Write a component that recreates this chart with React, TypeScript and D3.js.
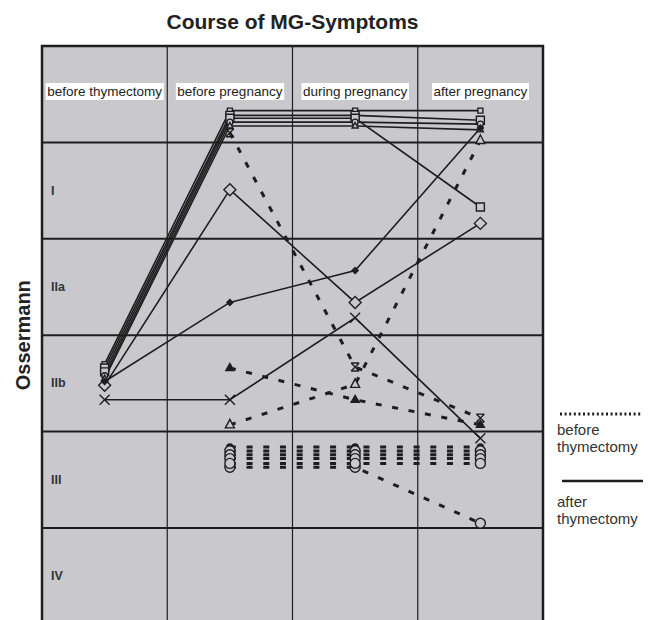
import React, { useEffect, useRef } from 'react';
import * as d3 from 'd3';

// stages along the x axis and Ossermann grades down the y axis
const stages = ['before thymectomy', 'before pregnancy', 'during pregnancy', 'after pregnancy'];
const grades = ['I', 'IIa', 'IIb', 'III', 'IV'];

// values are in grade units (0 = top of the unlabeled remission band, 1 = top of I ...)
// small offsets keep overlapping patients visible, like in the original
const afterThymA = [3.3, 0.67, 0.67, 0.67];
const afterThymB = [3.34, 0.72, 0.72, 0.77];
const afterThymC = [3.38, 0.75, 0.75, 1.67];
const afterThymD = [3.42, 0.79, 0.79, 0.81];
const afterThymE = [3.45, 0.83, 0.83, 0.87];
const afterThymF = [3.52, 1.49, 2.66, 1.84];
const afterThymG = [3.48, 2.66, 2.33, 0.85];
const afterThymH = [3.67, 3.67, 2.82, 4.07];

const beforeThymA = [null, 0.9, 3.33, 3.86];
const beforeThymB = [null, 3.93, 3.51, 0.98];
const beforeThymC = [null, 3.34, 3.67, 3.93];
const beforeThymD = [null, 4.37, 4.37, 4.95];
const beforeThymE = [null, 4.16, 4.16, 4.16];
const beforeThymF = [null, 4.2, 4.2, 4.2];
const beforeThymG = [null, 4.24, 4.24, 4.24];
const beforeThymH = [null, 4.28, 4.28, 4.28];
const beforeThymI = [null, 4.33, 4.33, 4.33];

const solidSeries = [
  { values: afterThymA, marker: 'sqS' },
  { values: afterThymB, marker: 'sq' },
  { values: afterThymC, marker: 'sq' },
  { values: afterThymD, marker: 'circS' },
  { values: afterThymE, marker: 'triS' },
  { values: afterThymF, marker: 'dia' },
  { values: afterThymG, marker: 'diaS' },
  { values: afterThymH, marker: 'x' },
];

const dashedSeries = [
  { values: beforeThymA, marker: 'star' },
  { values: beforeThymB, marker: 'tri' },
  { values: beforeThymC, marker: 'triF' },
  { values: beforeThymD, marker: 'circ' },
  { values: beforeThymE, marker: 'dot' },
  { values: beforeThymF, marker: 'circ' },
  { values: beforeThymG, marker: 'circ' },
  { values: beforeThymH, marker: 'circ' },
  { values: beforeThymI, marker: 'circ' },
];

const BG = '#c9c9cd';
const INK = '#1e1e1e';
const FONT = '"Liberation Sans", Arial, Helvetica, sans-serif';

function markerPath(type: string) {
  switch (type) {
    case 'sqS': return 'M-2.5,-2.5h5v5h-5Z';
    case 'sq': return 'M-4,-4h8v8h-8Z';
    case 'dia': return 'M0,-6L6,0L0,6L-6,0Z';
    case 'diaS': return 'M0,-3L3,0L0,3L-3,0Z';
    case 'x': return 'M-5,-5L5,5M-5,5L5,-5';
    case 'star': return 'M-4,-4L4,4M-4,4L4,-4M-4,-4H4M-4,4H4';
    case 'tri': return 'M0,-5.5L4.5,3L-4.5,3Z';
    case 'triS': return 'M0,-3.5L3,2L-3,2Z';
    case 'triF': return 'M0,-4.5L4,2.5L-4,2.5Z';
    default: return '';
  }
}

export default function App() {
  const svgRef = useRef<SVGSVGElement>(null);
  const width = 655;
  const height = 620;

  useEffect(() => {
    const svg = d3.select(svgRef.current);
    svg.selectAll('*').remove();

    const x = d3.scaleBand().domain(stages).range([42, 543]);
    const cx = (i: number) => (x(stages[i]) as number) + x.bandwidth() / 2;
    const y = d3.scaleLinear().domain([0, 6]).range([46, 624.4]);

    // title + axis label
    svg.append('text')
      .attr('x', 292.5).attr('y', 29)
      .attr('text-anchor', 'middle')
      .style('font-family', FONT).style('font-weight', 'bold').style('font-size', '21px')
      .attr('fill', '#222')
      .text('Course of MG-Symptoms');

    svg.append('text')
      .attr('transform', `translate(30,${y(3)}) rotate(-90)`)
      .attr('text-anchor', 'middle')
      .style('font-family', FONT).style('font-weight', 'bold').style('font-size', '20px')
      .attr('fill', '#222')
      .text('Ossermann');

    // plot area
    svg.append('rect')
      .attr('x', 42).attr('y', y(0))
      .attr('width', 501).attr('height', y(6) - y(0))
      .attr('fill', BG).attr('stroke', INK).attr('stroke-width', 2.5);

    const grid = svg.append('g');
    grid.selectAll('.vline')
      .data(d3.range(1, stages.length))
      .enter().append('line')
      .attr('x1', i => 42 + i * x.bandwidth()).attr('x2', i => 42 + i * x.bandwidth())
      .attr('y1', y(0)).attr('y2', y(6))
      .attr('stroke', INK).attr('stroke-width', 1.2);
    grid.selectAll('.hline')
      .data(d3.range(1, grades.length + 1))
      .enter().append('line')
      .attr('x1', 42).attr('x2', 543)
      .attr('y1', d => y(d)).attr('y2', d => y(d))
      .attr('stroke', INK).attr('stroke-width', 2);

    // row labels
    svg.selectAll('.row-label')
      .data(grades)
      .enter().append('text')
      .attr('x', 51)
      .attr('y', (d, i) => y(i + 1.5) + 4)
      .style('font-family', FONT).style('font-weight', 'bold').style('font-size', '12.5px')
      .attr('fill', '#333')
      .text(d => d);

    // column labels with white boxes
    stages.forEach((s, i) => {
      const t = svg.append('text')
        .attr('x', cx(i)).attr('y', 96)
        .attr('text-anchor', 'middle')
        .style('font-family', FONT).style('font-size', '13.5px')
        .attr('fill', '#222')
        .text(s);
      const bb = (t.node() as SVGTextElement).getBBox();
      svg.insert('rect', () => t.node())
        .attr('x', bb.x - 1.5).attr('y', 83)
        .attr('width', bb.width + 3).attr('height', 17)
        .attr('fill', '#fff');
    });

    const line = d3.line<number | null>()
      .defined(d => d != null)
      .x((d, i) => cx(i))
      .y(d => y(d as number));

    const drawMarkers = (g: any, values: (number | null)[], type: string) => {
      values.forEach((v, i) => {
        if (v == null) return;
        const px = cx(i), py = y(v);
        if (type === 'circ' || type === 'circS' || type === 'dot') {
          g.append('circle')
            .attr('cx', px).attr('cy', py)
            .attr('r', type === 'circ' ? 5 : 3)
            .attr('fill', type === 'dot' ? INK : BG)
            .attr('stroke', INK).attr('stroke-width', 1.4);
        } else {
          const filled = type === 'diaS' || type === 'triF';
          g.append('path')
            .attr('transform', `translate(${px},${py})`)
            .attr('d', markerPath(type))
            .attr('fill', filled ? INK : (type === 'x' || type === 'star' ? 'none' : BG))
            .attr('stroke', INK).attr('stroke-width', 1.4);
        }
      });
    };

    // dashed lines: before thymectomy
    const dg = svg.append('g');
    dashedSeries.forEach(s => {
      dg.append('path')
        .attr('d', line(s.values))
        .attr('fill', 'none')
        .attr('stroke', INK).attr('stroke-width', 3)
        .attr('stroke-dasharray', '6,10.7');
    });

    // solid lines: after thymectomy
    const sg = svg.append('g');
    solidSeries.forEach(s => {
      sg.append('path')
        .attr('d', line(s.values))
        .attr('fill', 'none')
        .attr('stroke', INK).attr('stroke-width', 1.6);
    });

    const mg = svg.append('g');
    dashedSeries.forEach(s => drawMarkers(mg, s.values, s.marker));
    solidSeries.forEach(s => drawMarkers(mg, s.values, s.marker));

    // legend
    const legend = svg.append('g');
    legend.append('line')
      .attr('x1', 560).attr('x2', 642).attr('y1', 414).attr('y2', 414)
      .attr('stroke', INK).attr('stroke-width', 3).attr('stroke-dasharray', '2,2.6');
    legend.append('line')
      .attr('x1', 562).attr('x2', 643).attr('y1', 481).attr('y2', 481)
      .attr('stroke', INK).attr('stroke-width', 2.5);
    const legendText = [
      { t: 'before', y: 435 },
      { t: 'thymectomy', y: 452 },
      { t: 'after', y: 507 },
      { t: 'thymectomy', y: 524 },
    ];
    legend.selectAll('.legend-text')
      .data(legendText)
      .enter().append('text')
      .attr('x', 557).attr('y', d => d.y)
      .style('font-family', FONT).style('font-size', '15px')
      .attr('fill', '#333')
      .text(d => d.t);
  }, []);

  return (
    <svg ref={svgRef} width={width} height={height}
      style={{ position: 'absolute', left: 0, top: 0, background: '#fff' }} />
  );
}
